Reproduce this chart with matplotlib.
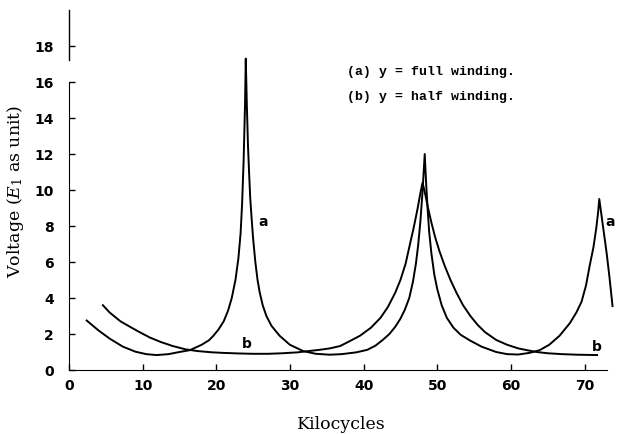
import numpy as np
import matplotlib.pyplot as plt

plt.rcParams['mathtext.fontset'] = 'dejavuserif'

# curve (a): y = full winding
a_x = [2.4, 4, 5.5, 7.3, 9, 10.5, 11.9, 13.5, 15, 16.4, 18, 19.0, 19.6, 20.3, 21.0,
       21.6, 22.1, 22.6, 23.0, 23.3, 23.5, 23.7, 23.9, 24.0, 24.15, 24.3, 24.45, 24.6,
       24.8, 25.0, 25.3, 25.6, 25.9, 26.3, 26.8, 27.5, 28.6, 30.0, 31.8, 33.5, 35.4,
       37, 39, 40.5, 41.6, 42.6, 43.5, 44.3, 45.0, 45.6, 46.2, 46.7, 47.1, 47.4, 47.7,
       48.0, 48.3, 48.5, 48.7, 48.9, 49.2, 49.6, 50.0, 50.6, 51.3, 52.2, 53.2, 54.4,
       56, 58, 59.5, 61, 62.5, 63.9, 65.2, 66.6, 68, 68.9, 69.6, 70.2, 70.7, 71.2,
       71.6, 71.85, 72.0, 72.3, 72.7, 73.0, 73.4, 73.8]
a_y = [2.75, 2.2, 1.75, 1.3, 1.02, 0.88, 0.83, 0.88, 1.0, 1.1, 1.4, 1.65, 1.9, 2.25, 2.7,
       3.3, 4.0, 5.0, 6.2, 7.6, 9.2, 11.5, 14.7, 17.3, 14.7, 12.5, 11.0, 9.6,
       8.4, 7.3, 6.0, 5.0, 4.3, 3.6, 3.0, 2.45, 1.9, 1.4, 1.05, 0.9, 0.85,
       0.88, 0.98, 1.12, 1.35, 1.67, 2.0, 2.4, 2.85, 3.35, 4.0, 4.9, 5.9, 6.9, 8.2,
       9.9, 12.0, 10.3, 8.9, 7.7, 6.5, 5.3, 4.5, 3.6, 2.9, 2.35, 1.95, 1.65,
       1.3, 1.0, 0.88, 0.86, 0.95, 1.1, 1.4, 1.9, 2.6, 3.2, 3.8, 4.7, 5.8, 6.8,
       7.9, 8.8, 9.5, 8.6, 7.4, 6.5, 5.1, 3.55]

# curve (b): y = half winding
b_x = [4.6, 5.5, 7, 8.5, 9.6, 11, 12.5, 14.1, 15.8, 17.5, 19.5, 21, 23, 25, 27, 29,
       31, 32.5, 34, 35.4, 36.8, 38.1, 39.5, 41, 42.3, 43.3, 44.3, 45.0, 45.7, 46.3,
       46.8, 47.3, 47.7, 48.0, 48.3, 48.7, 49.2, 49.7, 50.3, 51.0, 51.8, 52.6, 53.5,
       54.5, 55.5, 56.5, 58, 59.5, 61, 62.2, 63.5, 65, 67, 69, 71.7]
b_y = [3.6, 3.2, 2.7, 2.35, 2.1, 1.8, 1.55, 1.33, 1.15, 1.05, 0.98, 0.95, 0.92, 0.9,
       0.9, 0.93, 0.98, 1.05, 1.12, 1.2, 1.33, 1.6, 1.9, 2.35, 2.9, 3.5, 4.3, 5.0, 5.9,
       7.0, 7.9, 8.9, 9.8, 10.4, 9.9, 9.1, 8.2, 7.4, 6.6, 5.8, 5.0, 4.3, 3.6,
       3.0, 2.5, 2.1, 1.67, 1.4, 1.2, 1.1, 1.0, 0.93, 0.88, 0.85, 0.83]

x_ticks = [0, 10, 20, 30, 40, 50, 60, 70]
y_ticks = [0, 2, 4, 6, 8, 10, 12, 14, 16, 18]

fig = plt.figure(figsize=(6.17, 4.35), dpi=100)
ax = fig.add_axes([69 / 617, 64 / 435, 545 / 617, 360 / 435])

ax.plot(a_x, a_y, color='black', lw=1.4)
ax.plot(b_x, b_y, color='black', lw=1.4)

ax.set_xlim(0, 74)
ax.set_ylim(0, 20)

for s in ['top', 'right']:
    ax.spines[s].set_visible(False)
ax.spines['bottom'].set_bounds(0, 73)
ax.spines['left'].set_bounds(0, 16)
ax.plot([0, 0], [17.2, 20], color='black', lw=1.0, clip_on=False)

ax.set_xticks(x_ticks)
ax.set_yticks(y_ticks)
ax.tick_params(direction='in', length=4, width=1, labelsize=10)
ax.tick_params(axis='x', pad=6)
ax.tick_params(axis='y', pad=11)
for lab in ax.get_xticklabels() + ax.get_yticklabels():
    lab.set_fontweight('bold')

ax.set_xlabel('Kilocycles', family='DejaVu Serif', fontsize=12.5, labelpad=16)
ax.set_ylabel('Voltage ($E_1$ as unit)', family='DejaVu Serif', fontsize=12.5, labelpad=6)

ax.text(26.3, 8.3, 'a', fontsize=10, fontweight='bold', ha='center', va='center')
ax.text(24.2, 1.5, 'b', fontsize=10, fontweight='bold', ha='center', va='center')
ax.text(71.6, 1.35, 'b', fontsize=10, fontweight='bold', ha='center', va='center')
ax.text(73.5, 8.3, 'a', fontsize=10, fontweight='bold', ha='center', va='center', clip_on=False)

ax.text(37.7, 16.6, '(a) y = full winding.', family='Liberation Mono', fontweight='bold',
        fontsize=9.5, va='center')
ax.text(37.7, 15.2, '(b) y = half winding.', family='Liberation Mono', fontweight='bold',
        fontsize=9.5, va='center')

fig.savefig('out.png', dpi=100)
